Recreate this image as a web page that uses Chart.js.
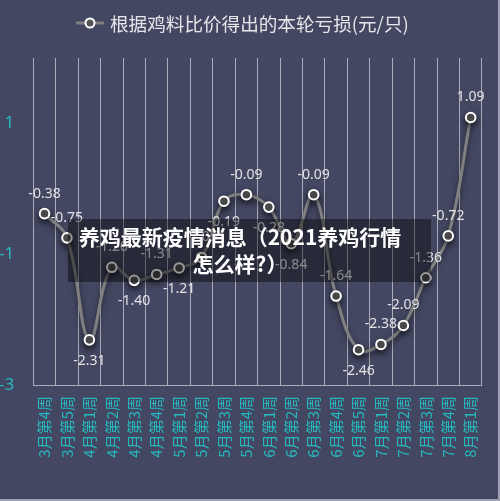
<!DOCTYPE html>
<html><head><meta charset="utf-8">
<script src="https://cdn.jsdelivr.net/npm/chart.js@4.4.0/dist/chart.umd.min.js"></script>
<style>
html,body{margin:0;padding:0;background:#434761;}
#wrap{position:relative;width:500px;height:501px;overflow:hidden;}
canvas{display:block}
#overlay{position:absolute;left:68px;top:219px;width:363px;height:63px;background:rgba(0,0,0,0.4);color:#fff;font-family:"Noto Sans CJK SC";font-weight:bold;font-size:21px;text-align:center;line-height:27px;box-sizing:border-box;padding:4px 19px 0 0;white-space:nowrap;}
</style></head>
<body><div id="wrap"><canvas id="c" width="500" height="501"></canvas><div id="overlay">养鸡最新疫情消息（2021养鸡行情<br>怎么样?）</div></div>
<script>
const categories = ["3月第4周","3月第5周","4月第1周","4月第2周","4月第3周","4月第4周","5月第1周","5月第2周","5月第3周","5月第4周","6月第1周","6月第2周","6月第3周","6月第4周","6月第5周","7月第1周","7月第2周","7月第3周","7月第4周","8月第1周"];
const lossValues = [-0.38,-0.75,-2.31,-1.20,-1.40,-1.31,-1.21,-1.05,-0.19,-0.09,-0.28,-0.84,-0.09,-1.64,-2.46,-2.38,-2.09,-1.36,-0.72,1.09];
const yTickValues = [-3,-1,1];
const labelSide = ["top","top","bottom","top","bottom","top","bottom","top","bottom","top","bottom","bottom","top","top","bottom","top","top","top","top","top"];
const seriesName = "根据鸡料比价得出的本轮亏损(元/只)";

const TEAL = "#27b8bf";
const LINE = "#808080";

const bgPlugin = {
  id:"bg",
  beforeDraw(chart){
    const c = chart.ctx;
    c.save(); c.fillStyle = "#434761"; c.fillRect(0,0,chart.width,chart.height); c.restore();
  },
  beforeDatasetDraw(chart){
    const c = chart.ctx;
    c.save();
    c.shadowColor = "rgba(0,0,0,0.55)"; c.shadowBlur = 6; c.shadowOffsetY = 3;
  },
  afterDatasetDraw(chart){ chart.ctx.restore(); },
  afterDatasetsDraw(chart){
    const c = chart.ctx;
    const meta = chart.getDatasetMeta(0);
    c.save();
    c.font = '14px "Noto Sans"';
    c.fillStyle = "#e2e2e6";
    c.textAlign = "center"; c.textBaseline = "middle";
    meta.data.forEach((p,i)=>{
      const dy = labelSide[i] === "top" ? -20 : 21;
      c.fillText(lossValues[i].toFixed(2), p.x, p.y + dy);
    });
    c.restore();
  },
  afterDraw(chart){
    const c = chart.ctx;
    c.save();
    c.strokeStyle = LINE; c.lineWidth = 3;
    c.beginPath(); c.moveTo(76,23); c.lineTo(104,23); c.stroke();
    c.beginPath(); c.arc(90,23,4.5,0,Math.PI*2);
    c.fillStyle = "#555"; c.fill(); c.strokeStyle = "#fff"; c.lineWidth = 2; c.stroke();
    c.font = '18.6px "Noto Sans CJK SC"';
    c.fillStyle = "#e6e6ea"; c.textAlign = "left"; c.textBaseline = "middle";
    c.fillText(seriesName, 110, 24);
    c.strokeStyle = "#9da1b2"; c.lineWidth = 2;
    c.beginPath(); c.moveTo(499,0); c.lineTo(499,500); c.lineTo(0,500); c.stroke();
    c.restore();
  }
};

new Chart(document.getElementById("c"), {
  type:"line",
  data:{
    labels: categories,
    datasets:[{
      label: seriesName,
      data: lossValues,
      borderColor: LINE,
      borderWidth: 3,
      tension: 0.4,
      pointRadius: 4.8,
      pointBackgroundColor: "#555",
      pointBorderColor: "#fff",
      pointBorderWidth: 2,
      fill:false
    }]
  },
  options:{
    responsive:false,
    animation:false,
    layout:{padding:{top:58,right:12.7,left:0,bottom:0}},
    plugins:{legend:{display:false},tooltip:{enabled:false}},
    scales:{
      x:{
        offset:true,
        grid:{display:true,offset:true,color:"rgba(205,205,215,0.75)",lineWidth:1,drawTicks:false},
        border:{display:true,color:"rgba(205,205,215,0.75)"},
        ticks:{autoSkip:false,minRotation:90,maxRotation:90,padding:11,color:TEAL,font:{size:15,family:'"Noto Sans CJK SC"'}},
        afterFit(s){ s.height = 116; }
      },
      y:{
        min:-3,max:2,
        grid:{display:false},
        border:{display:false},
        afterBuildTicks(s){ s.ticks = yTickValues.map(v=>({value:v})); },
        ticks:{color:TEAL,padding:11,font:{size:17,family:'"Noto Sans"'}},
        afterFit(s){ s.width = 33.3; }
      }
    }
  },
  plugins:[bgPlugin]
});
</script>
</body></html>
